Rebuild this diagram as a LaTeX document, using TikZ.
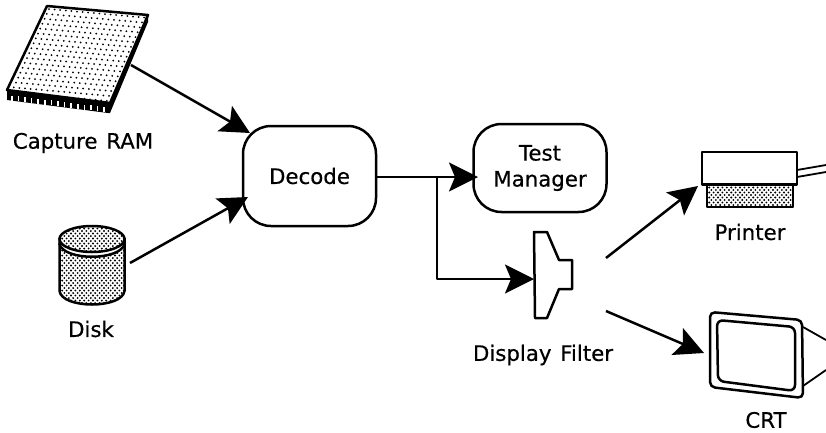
\documentclass[tikz,border=0pt]{standalone}
\usepackage{fontspec}
\setmainfont{DejaVu Sans}
\newfontfamily\lblfont[FakeBold=0.5,WordSpace=1.3]{DejaVu Sans}
\usetikzlibrary{arrows.meta}
\tikzset{
  x=1pt,y=-1pt,
  conn/.style={line width=2.5pt,-{Stealth[length=29pt,width=29pt,inset=6pt]},line join=round},
  plain/.style={line width=2.5pt,line join=round},
  roundbox/.style={draw,line width=2.5pt,rounded corners=28pt,inner sep=0pt,align=center,font=\lbl},
  lab/.style={inner sep=0pt,align=center,font=\lbl},
  outl/.style={draw,line width=2.5pt,line join=round},
}
\newcommand{\lbl}{\lblfont\fontsize{21.3}{26}\selectfont}
\newcommand{\ramdots}{\foreach \r in {0,...,18}{\foreach \c in {0,...,18}{
  \fill ({49+\c*5.6-\r*2.2},{9+\c*.5+\r*4.9}) circle (1pt);}}}
\newcommand{\densedots}[4]{\foreach \r in {0,...,#4}{\foreach \c in {0,...,#3}{
  \fill ({#1+\c*4.4+mod(\r,2)*2.2},{#2+\r*2.5}) circle (1.05pt);}}}
\begin{document}
\begin{tikzpicture}
\useasboundingbox (0,0) rectangle (826,432);
% RAM
\fill (7,90) -- (47,6) -- (148,15) -- (148,22) -- (110,113) -- (108,113) -- (7,100) -- cycle;
\foreach \i in {0,...,14}{\fill[white] ({11+\i*6.6},{95.5+\i*.82}) rectangle ++(1.6,5);}
\path[fill=white,outl] (7,90) -- (47,6) -- (148,15) -- (110,103) -- cycle;
\begin{scope}
\clip (8,90) -- (47,7) -- (147,16) -- (110,102) -- cycle;
\ramdots
\end{scope}
\coordinate (ramout) at (131,65);
\coordinate (decin1) at (250,133);
\node[lab] (ramlabel) at (83,143) {Capture RAM};
% Disk
\path[fill=white,outl] (59.5,243) -- (59.5,291) .. controls (62,309) and (122,309) .. (124.5,291) -- (124.5,243) -- cycle;
\begin{scope}
\clip (59.5,243) -- (59.5,291) .. controls (62,309) and (122,309) .. (124.5,291) -- (124.5,243) -- cycle;
\densedots{60}{243}{15}{25}
\end{scope}
\path[fill=white,outl] (59.5,244) .. controls (64,261) and (120,261) .. (124.5,244) -- (124.5,238) -- (59.5,238) -- cycle;
\path[fill=white,outl] (92,239) ellipse[x radius=32.5,y radius=13];
\begin{scope}
\clip (92,239) ellipse[x radius=32,y radius=12.5];
\densedots{60}{226}{15}{11}
\end{scope}
\coordinate (diskout) at (130,263);
\coordinate (decin2) at (248,197);
\node[lab] (disklabel) at (91,329) {Disk};
% Decode
\node[roundbox,minimum width=133pt,minimum height=100pt] (decode) at (309.5,176) {Decode};
\node[roundbox,minimum width=133pt,minimum height=88pt] (test) at (540,168) {Test\\Manager};
% Display filter
\path[outl,fill=white] (534,232) -- (547,232) -- (559,260) -- (572,260) -- (572,289) -- (559,289) -- (547,318) -- (535,318) -- cycle;
\coordinate (testin) at (478,177);
\coordinate (decout) at (375,177);
\coordinate (branch) at (437,177);
\coordinate (bend) at (437,279);
\coordinate (filtin) at (534,279);
\node[lab] (filterlabel) at (543,355) {Display Filter};
\draw[plain] (decout) -- (branch);
\draw[conn] (branch) -- (testin);
\draw[conn] (branch) -- (bend) -- (filtin);
\draw[conn] (ramout) -- (decin1);
\draw[conn] (diskout) -- (decin2);
% Printer
\path[outl] (707,185) rectangle (793,207);
\begin{scope}
\clip (707,185) rectangle (793,207);
\densedots{707}{185}{20}{9}
\end{scope}
\path[outl,fill=white] (702,152) rectangle (797,184.5);
\draw[plain,line width=1.8pt] (797,170) -- (826,165);
\draw[plain,line width=1.8pt] (797,177) -- (826,172);
\coordinate (filtout1) at (606,258);
\coordinate (prin) at (698,186);
\draw[conn] (filtout1) -- (prin);
\node[lab] (printerlabel) at (750,232) {Printer};
% CRT
\draw[plain,line width=1.8pt] (803,327) -- (826,340);
\draw[plain,line width=1.8pt] (803,386) -- (826,370);
\draw[outl,rounded corners=5pt] (710,312) -- (802,320) -- (803,398) -- (710,387) -- cycle;
\draw[outl,rounded corners=6pt] (717,320) -- (795,327) -- (795,391) -- (718,381) -- cycle;
\coordinate (filtout2) at (606,311);
\coordinate (crtin) at (704,353);
\draw[conn] (filtout2) -- (crtin);
\node[lab] (crtlabel) at (766,420) {CRT};
\end{tikzpicture}
\end{document}
